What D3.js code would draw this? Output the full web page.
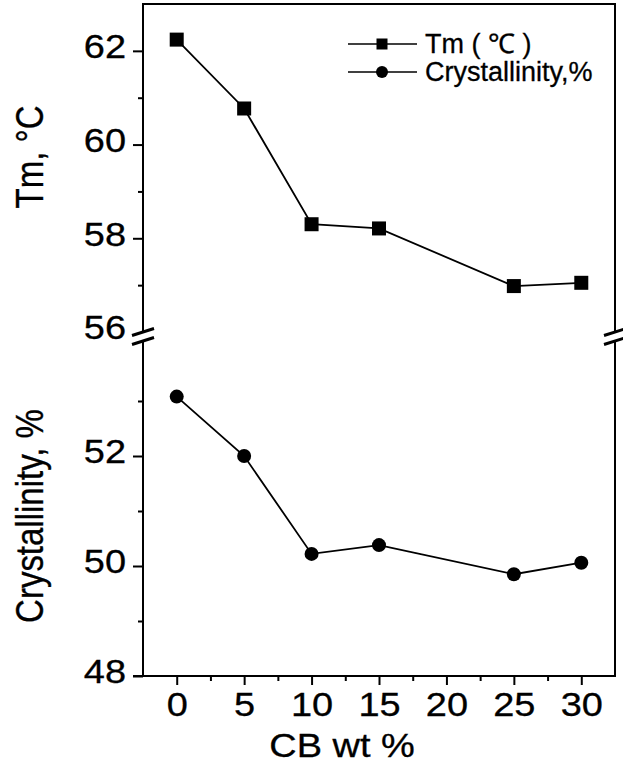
<!DOCTYPE html>
<html>
<head>
<meta charset="utf-8">
<script src="https://cdn.jsdelivr.net/npm/d3@7/dist/d3.min.js"></script>
<style>
  html, body { margin: 0; padding: 0; background: #fff; }
  svg { display: block; }
  text { font-family: "Liberation Sans", Arial, Helvetica, sans-serif; fill: #000; stroke: #000; stroke-width: 0.3px; }
</style>
</head>
<body>
<svg id="chart" width="623" height="767"></svg>
<script>
// ---- data ----
const cbWt = [0, 5, 10, 15, 25, 30];
const tmValues = [62.24, 60.77, 58.30, 58.21, 56.98, 57.05];
const crystValues = [53.08, 52.00, 50.22, 50.38, 49.85, 50.06];
const xTicks = [0, 5, 10, 15, 20, 25, 30];
const xMinor = [2.5, 7.5, 12.5, 17.5, 22.5, 27.5];
const tmTicks = [56, 58, 60, 62];
const tmMinor = [57, 59, 61];
const crystTicks = [48, 50, 52];
const crystMinor = [49, 51, 53];
const legendLabels = ["Tm ( \u2103 )", "Crystallinity,%"];
const xTitle = "CB wt %";
const yTitleTop = "Tm, \u00B0C";
const yTitleBottom = "Crystallinity, %";

const SX = 1.15; // horizontal stretch of the reference lettering

const svg = d3.select("#chart");
const left = 143, right = 615;
const x = d3.scaleLinear().domain([-2.5, 32.5]).range([left, right]);
const yTop = d3.scaleLinear().domain([56, 63]).range([332, 4]);
const yBot = d3.scaleLinear().domain([48, 54]).range([676, 346]);

const axisW = 2;

// ---- frame lines ----
const frame = svg.append("g").attr("stroke", "#000").attr("stroke-width", axisW).attr("fill", "none");
const topY = yTop(63), bottomY = yBot(48);
const breakTopY = yTop(56), breakBotY = yBot(54) - 5;
[left, right].forEach(xx => {
  frame.append("line").attr("x1", xx).attr("x2", xx).attr("y1", topY - 1).attr("y2", breakTopY);
  frame.append("line").attr("x1", xx).attr("x2", xx).attr("y1", breakBotY).attr("y2", bottomY + 1);
});
frame.append("line").attr("x1", left).attr("x2", right).attr("y1", topY).attr("y2", topY);
frame.append("line").attr("x1", left - 10).attr("x2", right + 1).attr("y1", bottomY).attr("y2", bottomY);

// break marks
const brk = svg.append("g").attr("stroke", "#000").attr("stroke-width", 3);
[left, right].forEach(xx => {
  [breakTopY, breakBotY].forEach(yy => {
    brk.append("line").attr("x1", xx - 11).attr("y1", yy + 3.5).attr("x2", xx + 11).attr("y2", yy - 3.5);
  });
});

// ---- axes ----
function styleAxis(g) {
  g.select(".domain").remove();
  g.selectAll(".tick line").attr("stroke", "#000").attr("stroke-width", axisW);
}

// x axis
const gx = svg.append("g").attr("transform", `translate(0,${bottomY})`)
  .call(d3.axisBottom(x).tickValues(xTicks).tickSize(9).tickFormat(d3.format("d")))
  .call(styleAxis);
gx.selectAll(".tick text")
  .attr("y", 40).attr("dy", 0)
  .style("font-size", "33px")
  .attr("transform", `scale(${SX},1)`);
svg.append("g").attr("transform", `translate(0,${bottomY})`)
  .call(d3.axisBottom(x).tickValues(xMinor).tickSize(5).tickFormat(""))
  .call(styleAxis);

// y axes
function yAxis(scale, major, minor) {
  const g = svg.append("g").attr("transform", `translate(${left},0)`)
    .call(d3.axisLeft(scale).tickValues(major).tickSize(10).tickFormat(d3.format("d")))
    .call(styleAxis);
  g.selectAll(".tick text")
    .attr("x", -17 / SX).attr("dy", "6.8")
    .style("font-size", "33px")
    .attr("transform", `scale(${SX},1)`);
  svg.append("g").attr("transform", `translate(${left},0)`)
    .call(d3.axisLeft(scale).tickValues(minor).tickSize(5).tickFormat(""))
    .call(styleAxis);
  return g;
}
const gyt = yAxis(yTop, tmTicks, tmMinor);
gyt.selectAll(".tick").filter(d => d === 56).select("line").remove();
yAxis(yBot, crystTicks, crystMinor);

// ---- series ----
const lineTop = d3.line().x((d, i) => x(cbWt[i])).y(d => yTop(d));
const lineBot = d3.line().x((d, i) => x(cbWt[i])).y(d => yBot(d));
svg.append("path").datum(tmValues).attr("d", lineTop)
  .attr("fill", "none").attr("stroke", "#000").attr("stroke-width", 1.8);
svg.append("path").datum(crystValues).attr("d", lineBot)
  .attr("fill", "none").attr("stroke", "#000").attr("stroke-width", 1.8);

const sq = 14;
svg.append("g").selectAll("rect").data(tmValues).join("rect")
  .attr("x", (d, i) => x(cbWt[i]) - sq / 2).attr("y", d => yTop(d) - sq / 2)
  .attr("width", sq).attr("height", sq).attr("fill", "#000");
svg.append("g").selectAll("circle").data(crystValues).join("circle")
  .attr("cx", (d, i) => x(cbWt[i])).attr("cy", d => yBot(d)).attr("r", 7).attr("fill", "#000");

// ---- legend ----
const lg = svg.append("g");
const rows = [44, 72];
rows.forEach((ry, i) => {
  lg.append("line").attr("x1", 348).attr("x2", 417).attr("y1", ry).attr("y2", ry)
    .attr("stroke", "#000").attr("stroke-width", 1.6);
  if (i === 0) {
    lg.append("rect").attr("x", 382 - 5.5).attr("y", ry - 5.5).attr("width", 11).attr("height", 11).attr("fill", "#000");
  } else {
    lg.append("circle").attr("cx", 382).attr("cy", ry).attr("r", 6).attr("fill", "#000");
  }
  lg.append("text").attr("x", 425).attr("y", ry + 9).style("font-size", "27px").text(legendLabels[i]);
});

// ---- titles ----
svg.append("text").attr("text-anchor", "middle")
  .attr("transform", `translate(342,757) scale(${SX},1)`)
  .style("font-size", "33px").text(xTitle);
svg.append("text").attr("text-anchor", "middle")
  .attr("transform", `translate(43,157) rotate(-90) scale(1,${SX})`)
  .style("font-size", "33px").text(yTitleTop);
svg.append("text").attr("text-anchor", "middle")
  .attr("transform", `translate(43,516) rotate(-90) scale(1,${SX})`)
  .style("font-size", "33px").text(yTitleBottom);
</script>
</body>
</html>
